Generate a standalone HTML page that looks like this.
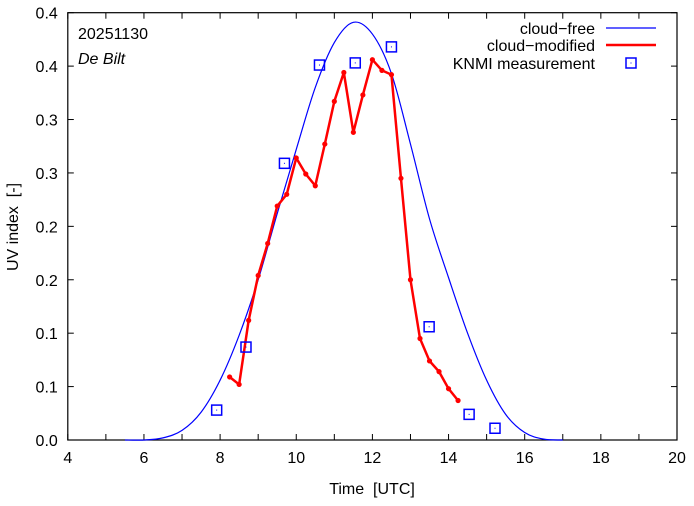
<!DOCTYPE html>
<html><head><meta charset="utf-8"><style>
body{margin:0;background:#fff;}
svg text{font-family:"Liberation Sans",sans-serif;font-size:16px;fill:#000;}
</style></head><body>
<svg id="chart" width="694" height="501" xmlns="http://www.w3.org/2000/svg">
<rect x="0" y="0" width="694" height="501" fill="#fff"/>
<g id="axes"></g>
<g id="series"></g>
<text x="78" y="39">20251130</text>
<text x="78" y="64" font-style="italic">De Bilt</text>
<text x="372" y="494" text-anchor="middle" xml:space="preserve">Time  [UTC]</text>
<text x="0" y="0" text-anchor="middle" xml:space="preserve" transform="translate(18,227) rotate(-90)">UV index  [-]</text>
<g>
<text x="595" y="34" text-anchor="end">cloud−free</text>
<line x1="606" y1="28" x2="656" y2="28" stroke="#0000ff" stroke-width="1.2"/>
<text x="595" y="51" text-anchor="end">cloud−modified</text>
<line x1="606" y1="45" x2="656" y2="45" stroke="#ff0000" stroke-width="2.5"/>
<text x="595" y="69" text-anchor="end">KNMI measurement</text>
<rect x="626" y="58" width="10" height="10" fill="none" stroke="#0000ff" stroke-width="1.5"/>
<rect x="630.5" y="62.5" width="1" height="1" fill="#0000ff"/>
</g>
</svg>
<script>
const clearTimes=[5.5,6,6.5,7,7.5,8,8.5,9,9.5,10,10.5,11,11.5,12,12.5,13,13.5,14,14.5,15,15.5,16,16.5,17];
const clearValues=[0,0,0.002,0.009,0.026,0.056,0.098,0.15,0.212,0.272,0.33,0.372,0.391,0.38,0.343,0.277,0.207,0.152,0.10,0.056,0.024,0.007,0.0008,0];
const cloudTimes=[8.25,8.5,8.75,9,9.25,9.5,9.75,10,10.25,10.5,10.75,11,11.25,11.5,11.75,12,12.25,12.5,12.75,13,13.25,13.5,13.75,14,14.25];
const cloudValues=[0.059,0.052,0.112,0.154,0.184,0.219,0.230,0.264,0.249,0.238,0.277,0.317,0.344,0.288,0.323,0.356,0.346,0.342,0.245,0.150,0.095,0.074,0.064,0.048,0.037];
const knmiTimes=[7.91,8.68,9.69,10.61,11.55,12.5,13.49,14.54,15.22];
const knmiValues=[0.028,0.087,0.259,0.351,0.353,0.368,0.106,0.024,0.011];
const xTicks=[4,5,6,7,8,9,10,11,12,13,14,15,16,17,18,19,20];
const xLabels=["4","","6","","8","","10","","12","","14","","16","","18","","20"];
const yTicks=[0,0.05,0.1,0.15,0.2,0.25,0.3,0.35,0.4];
const yLabels=["0.0","0.1","0.1","0.2","0.2","0.3","0.3","0.4","0.4"];

const L=67.8,R=677,T=12.7,B=440;
const X=t=>L+(t-4)*(R-L)/16;
const Y=v=>B-v*(B-T)/0.4;
const NS="http://www.w3.org/2000/svg";
function mk(tag,attrs,parent){const e=document.createElementNS(NS,tag);for(const k in attrs)e.setAttribute(k,attrs[k]);parent.appendChild(e);return e;}
const axes=document.getElementById('axes'), ser=document.getElementById('series');
const frame=mk('rect',{x:L,y:T,width:R-L,height:B-T,fill:'none',stroke:'#000','stroke-width':1.2},axes);


xTicks.forEach((t,i)=>{
  const x=X(t);
  mk('line',{x1:x,y1:B,x2:x,y2:B-6,stroke:'#000'},axes);
  mk('line',{x1:x,y1:T,x2:x,y2:T+6,stroke:'#000'},axes);
  if(xLabels[i]){const tx=mk('text',{x:x,y:B+23,'text-anchor':'middle'},axes);tx.textContent=xLabels[i];
  
  }
});
yTicks.forEach((v,i)=>{
  const y=Y(v);
  mk('line',{x1:L,y1:y,x2:L+6,y2:y,stroke:'#000'},axes);
  mk('line',{x1:R,y1:y,x2:R-6,y2:y,stroke:'#000'},axes);
  const tx=mk('text',{x:L-10,y:y+6,'text-anchor':'end'},axes);tx.textContent=yLabels[i];
  
  
});
const P=clearTimes.map((t,i)=>[X(t),Y(clearValues[i])]);
let d=`M${P[0][0]},${P[0][1]}`;
for(let i=0;i<P.length-1;i++){
  const p0=P[i-1]||P[i],p1=P[i],p2=P[i+1],p3=P[i+2]||P[i+1];
  d+=` C${p1[0]+(p2[0]-p0[0])/6},${p1[1]+(p2[1]-p0[1])/6} ${p2[0]-(p3[0]-p1[0])/6},${p2[1]-(p3[1]-p1[1])/6} ${p2[0]},${p2[1]}`;
}
const cf=mk('path',{d:d,fill:'none',stroke:'#0000ff','stroke-width':1.2},ser);


const cm=mk('polyline',{points:cloudTimes.map((t,i)=>X(t)+','+Y(cloudValues[i])).join(' '),fill:'none',stroke:'#ff0000','stroke-width':2.5},ser);


cloudTimes.forEach((t,i)=>{
  const c=mk('circle',{cx:X(t),cy:Y(cloudValues[i]),r:2.6,fill:'#ff0000'},ser);
  
  
});
knmiTimes.forEach((t,i)=>{
  const x=X(t),y=Y(knmiValues[i]);
  const r=mk('rect',{x:x-5,y:y-5,width:10,height:10,fill:'none',stroke:'#0000ff','stroke-width':1.5},ser);
  
  
  mk('rect',{x:x-0.5,y:y-0.5,width:1,height:1,fill:'#0000ff'},ser);
});
</script>
</body></html>
